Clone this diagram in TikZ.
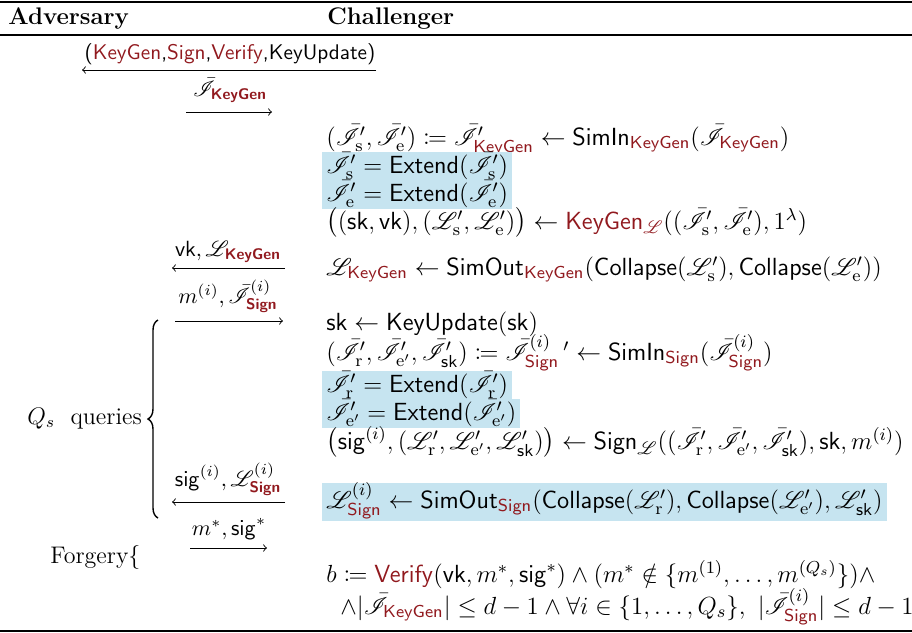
\RequirePackage{fix-cm}
\documentclass[12pt,tikz,border=0pt]{standalone}
\usepackage{amsmath,amssymb,mathtools,mathrsfs}
\usetikzlibrary{decorations.pathreplacing}
\definecolor{dred}{RGB}{145,25,30}
\definecolor{hl}{RGB}{198,228,240}
\newcommand\Ib{\bar{\mathscr{I}}}
\newcommand\Lc{\mathscr{L}}
\newcommand\rsf[1]{\textcolor{dred}{\mathsf{#1}}}
\newcommand\rbf[1]{\textcolor{dred}{\text{\sffamily\bfseries #1}}}
\tikzset{
  txt/.style={anchor=base west, inner sep=0pt, font=\fontsize{12.4}{15}\selectfont},
  side/.style={anchor=base west, inner sep=0pt},
  hlbox/.style={txt, fill=hl, inner xsep=2pt, inner ysep=0pt, text height=10.3pt, text depth=4pt},
  lbl/.style={anchor=base, inner sep=0pt, font=\fontsize{11}{13}\selectfont},
  msg/.style={line width=0.45pt},
}
\begin{document}
\begin{tikzpicture}[x=0.5pt,y=-0.5pt]
\useasboundingbox (0,0) rectangle (912,633);
% rules
\draw[line width=1.4pt] (0,2) -- (912,2);
\draw[line width=0.9pt] (0,35) -- (912,35);
\draw[line width=1.4pt] (0,631) -- (912,631);
\node[side] (adv) at (8,24) {\textbf{Adversary}};
\node[side] (chal) at (327,24) {\textbf{Challenger}};

% arrow 1
\node[lbl, font=\fontsize{10.6}{13}\selectfont] (l1) at (230,59) {\textsf{(\textcolor{dred}{KeyGen},\textcolor{dred}{Sign},\textcolor{dred}{Verify},KeyUpdate)}};
\coordinate (a1s) at (376,70); \coordinate (a1e) at (82,70);
\draw[msg,->] (a1s) -- (a1e);
% arrow 2
\node[lbl] (l2) at (230,96) {$\Ib_{\rbf{KeyGen}}$};
\coordinate (a2s) at (186,112); \coordinate (a2e) at (272,112);
\draw[msg,->] (a2s) -- (a2e);

% challenger keygen block
\node[txt] (c1) at (326,145) {$(\Ib'_{\mathrm{s}},\Ib'_{\mathrm{e}})\coloneqq\Ib'_{\rsf{KeyGen}}\leftarrow\mathsf{SimIn}_{\rsf{KeyGen}}(\Ib_{\rsf{KeyGen}})$};
\node[hlbox] (c2) at (322,173) {$\Ib'_{\mathrm{s}}=\mathsf{Extend}(\Ib'_{\mathrm{s}})$};
\node[hlbox] (c3) at (322,201) {$\Ib'_{\mathrm{e}}=\mathsf{Extend}(\Ib'_{\mathrm{e}})$};
\node[txt] (c4) at (326,229) {$\bigl((\mathsf{sk},\mathsf{vk}),(\Lc'_{\mathrm{s}},\Lc'_{\mathrm{e}})\bigr)\leftarrow\rsf{KeyGen}_{\textcolor{dred}{\Lc}}((\Ib'_{\mathrm{s}},\Ib'_{\mathrm{e}}),1^{\lambda})$};
\node[txt] (c5) at (326,275) {$\Lc_{\rsf{KeyGen}}\leftarrow\mathsf{SimOut}_{\rsf{KeyGen}}(\mathsf{Collapse}(\Lc'_{\mathrm{s}}),\mathsf{Collapse}(\Lc'_{\mathrm{e}}))$};

% arrow 3
\node[lbl] (l3) at (228,256) {$\mathsf{vk},\Lc_{\rbf{KeyGen}}$};
\coordinate (a3s) at (285,268); \coordinate (a3e) at (172,268);
\draw[msg,->] (a3s) -- (a3e);
% arrow 4
\node[lbl] (l4) at (228,303) {$m^{(i)},\Ib^{(i)}_{\rbf{Sign}}$};
\coordinate (a4s) at (175,321); \coordinate (a4e) at (283,321);
\draw[msg,->] (a4s) -- (a4e);

% sign block
\node[txt] (c6) at (326,330) {$\mathsf{sk}\leftarrow\mathsf{KeyUpdate}(\mathsf{sk})$};
\node[txt] (c7) at (326,360) {$(\Ib'_{\mathrm{r}},\Ib'_{\mathrm{e}'},\Ib'_{\mathsf{sk}})\coloneqq\Ib^{(i)}_{\rsf{Sign}}\,{}^{\prime}\leftarrow\mathsf{SimIn}_{\rsf{Sign}}(\Ib^{(i)}_{\rsf{Sign}})$};
\node[hlbox] (c8) at (322,392) {$\Ib'_{\mathrm{r}}=\mathsf{Extend}(\Ib'_{\mathrm{r}})$};
\node[hlbox] (c9) at (322,420) {$\Ib'_{\mathrm{e}'}=\mathsf{Extend}(\Ib'_{\mathrm{e}'})$};
\node[txt] (c10) at (326,449) {$\bigl(\mathsf{sig}^{(i)},(\Lc'_{\mathrm{r}},\Lc'_{\mathrm{e}'},\Lc'_{\mathsf{sk}})\bigr)\leftarrow\mathsf{Sign}_{\Lc}((\Ib'_{\mathrm{r}},\Ib'_{\mathrm{e}'},\Ib'_{\mathsf{sk}}),\mathsf{sk},m^{(i)})$};
\node[hlbox, text height=12.3pt, text depth=6.5pt] (c11) at (322,508) {$\Lc^{(i)}_{\rsf{Sign}}\leftarrow\mathsf{SimOut}_{\rsf{Sign}}(\mathsf{Collapse}(\Lc'_{\mathrm{r}}),\mathsf{Collapse}(\Lc'_{\mathrm{e}'}),\Lc'_{\mathsf{sk}})$};

% arrow 5
\node[lbl] (l5) at (228,486) {$\mathsf{sig}^{(i)},\Lc^{(i)}_{\rbf{Sign}}$};
\coordinate (a5s) at (285,502); \coordinate (a5e) at (172,502);
\draw[msg,->] (a5s) -- (a5e);
% arrow 6
\node[lbl] (l6) at (229,535) {$m^{*},\mathsf{sig}^{*}$};
\coordinate (a6s) at (190,548); \coordinate (a6e) at (267,548);
\draw[msg,->] (a6s) -- (a6e);

% left labels
\coordinate (bb) at (158,518); \coordinate (bt) at (158,320);
\draw[line width=0.7pt, decorate, decoration={brace, amplitude=5pt}] (bb) -- (bt);
\node[side] (qs) at (27,424) {$Q_s$\ \ queries};
\node[side] (forg) at (50,563) {Forgery\{};

% final
\node[txt] (c12) at (326,582) {$b\coloneqq\rsf{Verify}(\mathsf{vk},m^{*},\mathsf{sig}^{*})\wedge(m^{*}\notin\{m^{(1)},\dots,m^{(Q_s)}\})\wedge$};
\node[txt] (c13) at (340,614) {$\wedge|\Ib_{\rsf{KeyGen}}|\leq d-1\wedge\forall i\in\{1,\dots,Q_s\},\ |\Ib^{(i)}_{\rsf{Sign}}|\leq d-1$};
\end{tikzpicture}
\end{document}
